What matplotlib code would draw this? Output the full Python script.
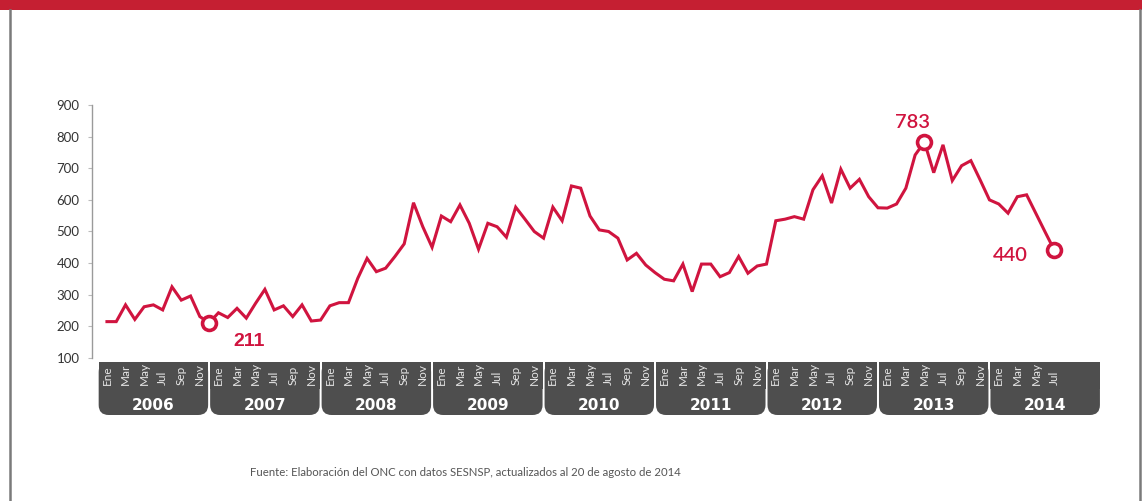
import matplotlib
matplotlib.use("Agg")
import matplotlib.pyplot as plt
from matplotlib.patches import FancyBboxPatch, Rectangle

# ---------------- data ----------------
years = ["2006", "2007", "2008", "2009", "2010", "2011", "2012", "2013", "2014"]
month_labels = ["Ene", "Feb", "Mar", "Abr", "May", "Jun", "Jul", "Ago", "Sep", "Oct", "Nov", "Dic"]
v2006 = [215, 215, 268, 222, 262, 268, 252, 325, 283, 296, 231, 211]
v2007 = [243, 228, 257, 226, 273, 317, 252, 265, 231, 268, 217, 220]
v2008 = [265, 275, 275, 352, 415, 373, 384, 421, 461, 591, 515, 450]
v2009 = [549, 531, 584, 526, 444, 526, 515, 482, 577, 539, 500, 479]
v2010 = [577, 534, 644, 637, 549, 505, 500, 479, 410, 431, 394, 370]
v2011 = [349, 344, 397, 310, 397, 397, 357, 370, 421, 368, 391, 397]
v2012 = [534, 539, 547, 539, 632, 676, 590, 697, 637, 665, 610, 575]
v2013 = [574, 587, 637, 742, 783, 686, 774, 661, 708, 724, 663, 600]
v2014 = [587, 558, 610, 616, 557, 498, 440]
yticks = [100, 200, 300, 400, 500, 600, 700, 800, 900]
highlights = [(11, "211"), (88, "783"), (102, "440")]
source = "Fuente: Elaboración del ONC con datos SESNSP, actualizados al 20 de agosto de 2014"

values = v2006 + v2007 + v2008 + v2009 + v2010 + v2011 + v2012 + v2013 + v2014
xs = list(range(len(values)))

RED = "#D0143F"
W, H = 1142, 501
fig = plt.figure(figsize=(W / 100, H / 100), dpi=100)
fig.patch.set_facecolor("white")

# overlay axes in pixel coordinates (y up)
ov = fig.add_axes([0, 0, 1, 1], zorder=0)
ov.set_xlim(0, W)
ov.set_ylim(0, H)
ov.axis("off")

# red banner and border
ov.add_patch(Rectangle((0, H - 10), W, 10, facecolor="#C51F32", edgecolor="none"))
ov.plot([9.5, 9.5], [0, H - 10], color="#7a7a7a", lw=1.8)
ov.plot([1140, 1140], [0, H - 10], color="#7a7a7a", lw=1.8)

# main axes
ax = fig.add_axes([92 / W, (H - 358) / H, (1100 - 92) / W, (358 - 105) / H], zorder=2)
ax.patch.set_visible(False)
ax.set_xlim(-1.61, 106.9)
ax.set_ylim(100, 900)
ax.plot(xs, values, color=RED, lw=2.2, solid_joinstyle="miter", zorder=3)

offsets = {"211": (40, -19), "783": (-12, 20), "440": (-44, -5)}
weights = {"211": "bold", "783": "semibold", "440": "semibold"}
fams = {"211": "Liberation Sans", "783": "Lato", "440": "Lato"}
sizes = {"211": 14, "783": 14.5, "440": 14.5}
for idx, lab in highlights:
    ax.plot(idx, values[idx], "o", ms=10, mfc="white", mec=RED, mew=2.6, zorder=4)
    ax.annotate(lab, (idx, values[idx]), xytext=offsets[lab], textcoords="offset pixels",
                ha="center", va="center", color=RED, fontsize=sizes[lab],
                fontweight=weights[lab], family=fams[lab])

for s in ["top", "right", "bottom"]:
    ax.spines[s].set_visible(False)
ax.spines["left"].set_color("#9a9a9a")
ax.spines["left"].set_linewidth(1.0)
ax.set_yticks(yticks)
ax.set_yticklabels([str(t) for t in yticks], fontsize=9.5, color="#333333", family="Lato")
ax.tick_params(axis="y", length=3, color="#bbbbbb", pad=6)
ax.set_xticks([])

fig.canvas.draw()
def px(i):
    return ax.transData.transform((i, 100))[0]

tab_top = H - 362
tab_bot = H - 415
th = tab_top - tab_bot
for k, yr in enumerate(years):
    x0 = px(12 * k - 1) + 1
    x1 = px(12 * k + 11) - 1
    w = x1 - x0
    ov.add_patch(FancyBboxPatch((x0, tab_bot), w, th, boxstyle="round,pad=0,rounding_size=10",
                                facecolor="#4e4e4e", edgecolor="none"))
    ov.add_patch(Rectangle((x0, tab_bot + th / 2), w, th / 2, facecolor="#4e4e4e", edgecolor="none"))
    ov.text((x0 + x1) / 2, H - 405, yr, ha="center", va="center", color="white",
            fontsize=11, fontweight="bold", family="DejaVu Sans")
    for m in range(0, 12, 2):
        i = 12 * k + m
        if i >= len(values):
            break
        ov.text(px(i), H - 385, month_labels[m], rotation=90, ha="center", va="bottom",
                color="#e6e6e6", fontsize=8.5, family="Lato")

ov.text(465, H - 472, source, ha="center", va="center", color="#555555", fontsize=8.2, family="Lato")

fig.savefig("out.png", dpi=100, facecolor="white")
